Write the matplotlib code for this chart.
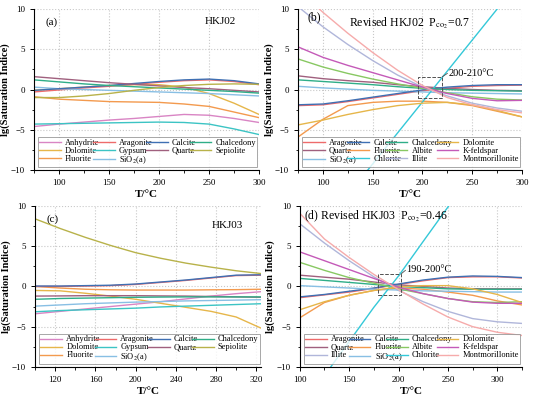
import matplotlib
matplotlib.use("Agg")
import matplotlib.pyplot as plt
from matplotlib.ticker import MultipleLocator
from matplotlib.patches import Rectangle

plt.rcParams['font.family'] = ['Liberation Serif', 'DejaVu Serif']
plt.rcParams['mathtext.fontset'] = 'stix'

# temperatures (°C)
t_hkj02 = [75, 100, 125, 150, 175, 200, 225, 250, 275, 300]
t_hkj03 = [100, 125, 150, 175, 200, 225, 250, 275, 300, 325]

colors = {
    'Anhydrite': '#d985c4', 'Aragonite': '#ee6b6b', 'Calcite': '#3f70b3',
    'Chalcedony': '#2fae88', 'Dolomite': '#e6b64a', 'Gypsum': '#3cc4c4',
    'Quartz': '#a0607e', 'Sepiolite': '#b8b24a', 'Fluorite': '#f39a4e',
    'SiO$_2$(a)': '#88bfe4', 'Albite': '#88c862', 'K-feldspar': '#c45ab8',
    'Chlorite': '#34c8d8', 'Illite': '#b0b6da', 'Montmorillonite': '#f6abab',
}

# (a) HKJ02
si_a = {
    'Anhydrite':  [-4.6, -4.3, -4.05, -3.8, -3.6, -3.35, -3.1, -3.2, -3.6, -4.1],
    'Aragonite':  [-0.3, -0.05, 0.2, 0.4, 0.65, 0.9, 1.1, 1.2, 1.0, 0.6],
    'Calcite':    [-0.1, 0.1, 0.3, 0.5, 0.75, 1.0, 1.2, 1.3, 1.1, 0.7],
    'Chalcedony': [1.2, 0.95, 0.7, 0.5, 0.35, 0.2, 0.05, -0.1, -0.25, -0.45],
    'Dolomite':   [-0.1, 0.1, 0.3, 0.5, 0.6, 0.6, 0.3, -0.5, -1.7, -3.1],
    'Gypsum':     [-4.3, -4.25, -4.2, -4.15, -4.1, -4.05, -4.1, -4.3, -4.9, -5.6],
    'Quartz':     [1.6, 1.35, 1.1, 0.85, 0.65, 0.45, 0.25, 0.1, -0.1, -0.3],
    'Sepiolite':  [-1.0, -1.0, -0.8, -0.5, -0.1, 0.25, 0.5, 0.65, 0.7, 0.65],
    'Fluorite':   [-0.9, -1.2, -1.35, -1.5, -1.55, -1.6, -1.8, -2.1, -2.8, -3.5],
    'SiO$_2$(a)': [0.3, 0.1, 0.0, -0.1, -0.2, -0.3, -0.4, -0.5, -0.65, -0.8],
}

# (b) revised HKJ02
si_b = {
    'Aragonite':       [-2.0, -1.9, -1.5, -1.05, -0.6, -0.15, 0.15, 0.4, 0.5, 0.55],
    'Calcite':         [-1.9, -1.8, -1.4, -0.95, -0.5, -0.05, 0.3, 0.5, 0.6, 0.6],
    'Chalcedony':      [1.2, 1.0, 0.8, 0.6, 0.35, 0.15, 0.0, -0.1, -0.15, -0.2],
    'Dolomite':        [-4.4, -3.8, -3.1, -2.5, -2.0, -1.7, -1.6, -1.9, -2.6, -3.4],
    'Quartz':          [1.7, 1.35, 1.1, 0.9, 0.6, 0.35, 0.15, 0.0, -0.1, -0.15],
    'Fluorite':        [-5.9, -3.7, -2.0, -1.6, -1.45, -1.45, -1.6, -2.0, -2.7, -3.4],
    'Albite':          [3.8, 2.8, 2.0, 1.3, 0.7, 0.15, -0.4, -0.9, -1.2, -1.3],
    'K-feldspar':      [5.3, 4.0, 3.0, 2.1, 1.2, 0.3, -0.5, -1.1, -1.4, -1.35],
    'SiO$_2$(a)':      [0.4, 0.2, 0.05, -0.1, -0.2, -0.3, -0.4, -0.45, -0.5, -0.55],
    'Chlorite':        [-20.8, -16.95, -13.1, -9.25, -5.4, -1.55, 2.3, 6.15, 10.0, 13.85],
    'Illite':          [10.3, 7.8, 5.6, 3.6, 1.8, 0.3, -0.8, -1.7, -2.3, -2.7],
    'Montmorillonite': [12.4, 9.6, 7.0, 4.6, 2.4, 0.5, -1.0, -1.9, -2.5, -2.9],
}

# (c) HKJ03
si_c = {
    'Anhydrite':  [-3.4, -3.1, -2.8, -2.5, -2.2, -1.9, -1.55, -1.2, -0.9, -0.65],
    'Aragonite':  [0.0, 0.0, 0.05, 0.1, 0.25, 0.5, 0.75, 1.05, 1.35, 1.4],
    'Calcite':    [0.05, 0.05, 0.1, 0.15, 0.3, 0.55, 0.8, 1.1, 1.4, 1.45],
    'Chalcedony': [-1.6, -1.5, -1.45, -1.4, -1.35, -1.32, -1.3, -1.3, -1.3, -1.3],
    'Dolomite':   [-0.5, -0.55, -0.85, -1.2, -1.6, -2.1, -2.6, -3.1, -3.8, -5.2],
    'Gypsum':     [-3.15, -3.0, -2.9, -2.8, -2.7, -2.55, -2.45, -2.35, -2.25, -2.15],
    'Quartz':     [-1.2, -1.18, -1.15, -1.15, -1.15, -1.18, -1.2, -1.25, -1.3, -1.35],
    'Sepiolite':  [8.4, 7.2, 6.1, 5.1, 4.2, 3.5, 2.9, 2.4, 1.95, 1.6],
    'Fluorite':   [0.0, -0.2, -0.35, -0.42, -0.45, -0.45, -0.45, -0.42, -0.4, -0.35],
    'SiO$_2$(a)': [-2.45, -2.3, -2.15, -2.05, -1.95, -1.88, -1.8, -1.75, -1.7, -1.65],
}

# (d) revised HKJ03
si_d = {
    'Aragonite':       [-1.4, -1.05, -0.7, -0.25, 0.25, 0.7, 1.1, 1.2, 1.2, 1.05],
    'Calcite':         [-1.3, -1.0, -0.6, -0.2, 0.3, 0.8, 1.15, 1.3, 1.25, 1.1],
    'Chalcedony':      [1.0, 0.75, 0.5, 0.25, 0.0, -0.15, -0.3, -0.35, -0.35, -0.35],
    'Dolomite':        [-2.9, -1.9, -1.1, -0.5, -0.05, 0.1, 0.1, -0.3, -1.0, -2.0],
    'Quartz':          [1.4, 1.15, 0.9, 0.55, 0.2, 0.0, -0.2, -0.28, -0.3, -0.3],
    'Fluorite':        [-3.9, -2.0, -1.1, -0.5, -0.2, -0.35, -0.7, -1.1, -1.8, -2.3],
    'Albite':          [3.0, 2.0, 1.1, 0.4, -0.3, -0.9, -1.5, -1.9, -2.0, -1.9],
    'K-feldspar':      [4.3, 3.2, 2.1, 1.0, -0.1, -0.9, -1.5, -1.95, -2.1, -2.1],
    'Illite':          [7.8, 5.4, 3.2, 1.2, -0.5, -1.9, -3.1, -4.0, -4.4, -4.6],
    'SiO$_2$(a)':      [0.1, -0.05, -0.2, -0.35, -0.45, -0.55, -0.6, -0.65, -0.7, -0.7],
    'Chlorite':        [-15.4, -11.1, -6.85, -2.6, 1.3, 5.6, 9.87, 14.1, 18.4, 22.7],
    'Montmorillonite': [9.1, 5.9, 3.6, 1.5, -0.4, -2.2, -3.8, -5.0, -5.7, -6.1],
}

order_ac = ['Anhydrite', 'Aragonite', 'Calcite', 'Chalcedony', 'Dolomite', 'Gypsum',
            'Quartz', 'Sepiolite', 'Fluorite', 'SiO$_2$(a)']
order_b = ['Aragonite', 'Calcite', 'Chalcedony', 'Dolomite', 'Quartz', 'Fluorite',
           'Albite', 'K-feldspar', 'SiO$_2$(a)', 'Chlorite', 'Illite', 'Montmorillonite']
order_d = ['Aragonite', 'Calcite', 'Chalcedony', 'Dolomite', 'Quartz', 'Fluorite',
           'Albite', 'K-feldspar', 'Illite', 'SiO$_2$(a)', 'Chlorite', 'Montmorillonite']


def row_to_col(items, ncol=4):
    # legend fills column by column, picture reads row by row
    rows = [items[i:i + ncol] for i in range(0, len(items), ncol)]
    out = []
    for c in range(ncol):
        for r in rows:
            if c < len(r):
                out.append(r[c])
    return out


def panel(ax, t, data, order, xlim, xmaj, xmin):
    for name in row_to_col(order):
        ax.plot(t, data[name], color=colors[name], lw=1.0, label=name)
    ax.set_xlim(*xlim)
    ax.set_ylim(-10, 10)
    ax.xaxis.set_major_locator(MultipleLocator(xmaj))
    ax.xaxis.set_minor_locator(MultipleLocator(xmin))
    ax.yaxis.set_major_locator(MultipleLocator(5))
    ax.yaxis.set_minor_locator(MultipleLocator(2.5))
    ax.grid(True, which='major', ls=':', color='#c8c8c8', lw=0.8)
    for s in ['top', 'right']:
        ax.spines[s].set_visible(False)
    ax.tick_params(direction='out', labelsize=6.5, length=3, width=0.7)
    ax.tick_params(which='minor', direction='out', length=1.8, width=0.6)
    ax.set_xlabel('T/°C', fontsize=8, fontweight='bold', labelpad=2)
    ax.set_ylabel('lg(Saturation Indice)', fontsize=7.5, fontweight='bold', labelpad=1)
    leg = ax.legend(loc='lower left', bbox_to_anchor=(0.01, 0.005, 0.99, 0.16), mode='expand',
                    ncol=4, fontsize=6, frameon=True, fancybox=False, handlelength=2.6,
                    handletextpad=0.5, columnspacing=0.4, labelspacing=0.0, borderpad=0.15,
                    borderaxespad=0.2)
    leg.get_frame().set_edgecolor('#909090')
    leg.get_frame().set_linewidth(0.7)


fig = plt.figure(figsize=(5.5, 3.97), dpi=100)
ax_a = fig.add_axes([0.062, 0.572, 0.409, 0.405])
ax_b = fig.add_axes([0.542, 0.572, 0.407, 0.405])
ax_c = fig.add_axes([0.064, 0.076, 0.411, 0.405])
ax_d = fig.add_axes([0.545, 0.076, 0.404, 0.405])

panel(ax_a, t_hkj02, si_a, order_ac, (75, 300), 50, 25)
panel(ax_b, t_hkj02, si_b, order_b, (75, 300), 50, 25)
panel(ax_c, t_hkj03, si_c, order_ac, (100, 325), 40, 20)
panel(ax_d, t_hkj03, si_d, order_d, (100, 325), 50, 25)
ax_c.set_xticks([120, 160, 200, 240, 280, 320])

ax_a.text(0.05, 0.95, '(a)', transform=ax_a.transAxes, fontsize=8, va='top')
ax_a.text(0.83, 0.95, 'HKJ02', transform=ax_a.transAxes, fontsize=8, va='top', ha='center')
ax_c.text(0.05, 0.95, '(c)', transform=ax_c.transAxes, fontsize=8, va='top')
ax_c.text(0.85, 0.91, 'HKJ03', transform=ax_c.transAxes, fontsize=8, va='top', ha='center')

ax_b.text(0.04, 0.985, '(b)', transform=ax_b.transAxes, fontsize=8.5, va='top')
ax_b.text(0.5, 0.96, r'Revised HKJ02  P$_{\mathrm{co_2}}$=0.7', transform=ax_b.transAxes,
          fontsize=8.5, va='top', ha='center')
ax_d.text(0.02, 0.985, '(d) Revised HKJ03  P$_{\\mathrm{co_2}}$=0.46', transform=ax_d.transAxes,
          fontsize=8.5, va='top')

# highlighted crossing windows
ax_b.add_patch(Rectangle((196, -1.1), 24, 2.7, fill=False, ls='--', lw=0.7, ec='#505050', zorder=5))
ax_b.plot([220, 225], [1.6, 2.0], color='#505050', lw=0.6)
ax_b.text(226, 1.7, '200-210°C', fontsize=7.5)
ax_d.add_patch(Rectangle((179, -1.1), 24, 2.7, fill=False, ls='--', lw=0.7, ec='#505050', zorder=5))
ax_d.plot([203, 207], [1.6, 2.0], color='#505050', lw=0.6)
ax_d.text(208, 1.8, '190-200°C', fontsize=7.5)

fig.savefig('out.png', dpi=100)
